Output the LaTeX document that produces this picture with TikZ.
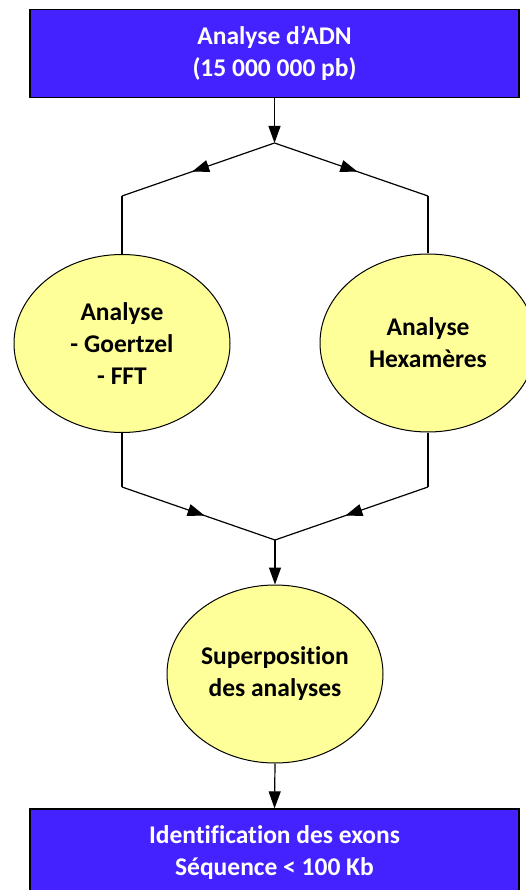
\documentclass[tikz,border=0pt]{standalone}
\usepackage{fontspec}
\setmainfont[Ligatures={NoCommon}]{Carlito}
\usetikzlibrary{arrows.meta,shapes.geometric,decorations.markings}
\definecolor{boxblue}{RGB}{68,34,255}
\definecolor{pale}{RGB}{255,255,153}
\begin{document}
\begin{tikzpicture}[x=1pt,y=-1pt,
  every node/.style={font=\bfseries\fontsize{25.5}{32}\selectfont, align=center, inner sep=0pt},
  bluebox/.style={rectangle, draw=black, line width=1.3pt, fill=boxblue, text=white,
                  minimum width=489pt, minimum height=88pt},
  oval/.style={ellipse, draw=black, line width=1pt, fill=pale,
               minimum width=216pt, minimum height=178pt},
  link/.style={line width=1.2pt, draw=black},
  arrowtip/.style={-{Triangle[length=17pt,width=12pt]}},
  midarrow/.style={postaction=decorate, decoration={markings,
      mark=at position #1 with {\arrow{Triangle[length=17pt,width=12pt]}}}}
]
\useasboundingbox (0,0) rectangle (526,890);
\clip (0,0) rectangle (526,890);

% main steps
\node[bluebox] (adn) at (274.5,53.5) {Analyse d’ADN\\(15 000 000 pb)};
\node[oval] (goertzel) at (122,343.5) {Analyse\\- Goertzel\\- FFT};
\node[oval] (hexa) at (428,343) {Analyse\\Hexamères};
\node[oval] (super) at (275,674) {Superposition\\des analyses};
\node[bluebox] (exons) at (274.5,853) {Identification des exons\\Séquence < 100 Kb};

% branching points
\coordinate (split) at (274.5,143);
\coordinate (splitL) at (122,196);
\coordinate (splitR) at (428,196);
\coordinate (joinL) at (122,487);
\coordinate (joinR) at (428,487);
\coordinate (join) at (275,540);

% fork into the two analyses
\draw[link,arrowtip] (adn.south) -- (split);
\draw[link,midarrow=0.54] (split) -- (splitL);
\draw[link] (splitL) -- (goertzel.north);
\draw[link,midarrow=0.54] (split) -- (splitR);
\draw[link] (splitR) -- (hexa.north);

% merge of the results
\draw[link] (goertzel.south) -- (joinL);
\draw[link,midarrow=0.54] (joinL) -- (join);
\draw[link] (hexa.south) -- (joinR);
\draw[link,midarrow=0.54] (joinR) -- (join);
\draw[link,arrowtip] (join) -- (super.north);
\draw[link,arrowtip] (super.south) -- (exons.north);
\end{tikzpicture}
\end{document}
